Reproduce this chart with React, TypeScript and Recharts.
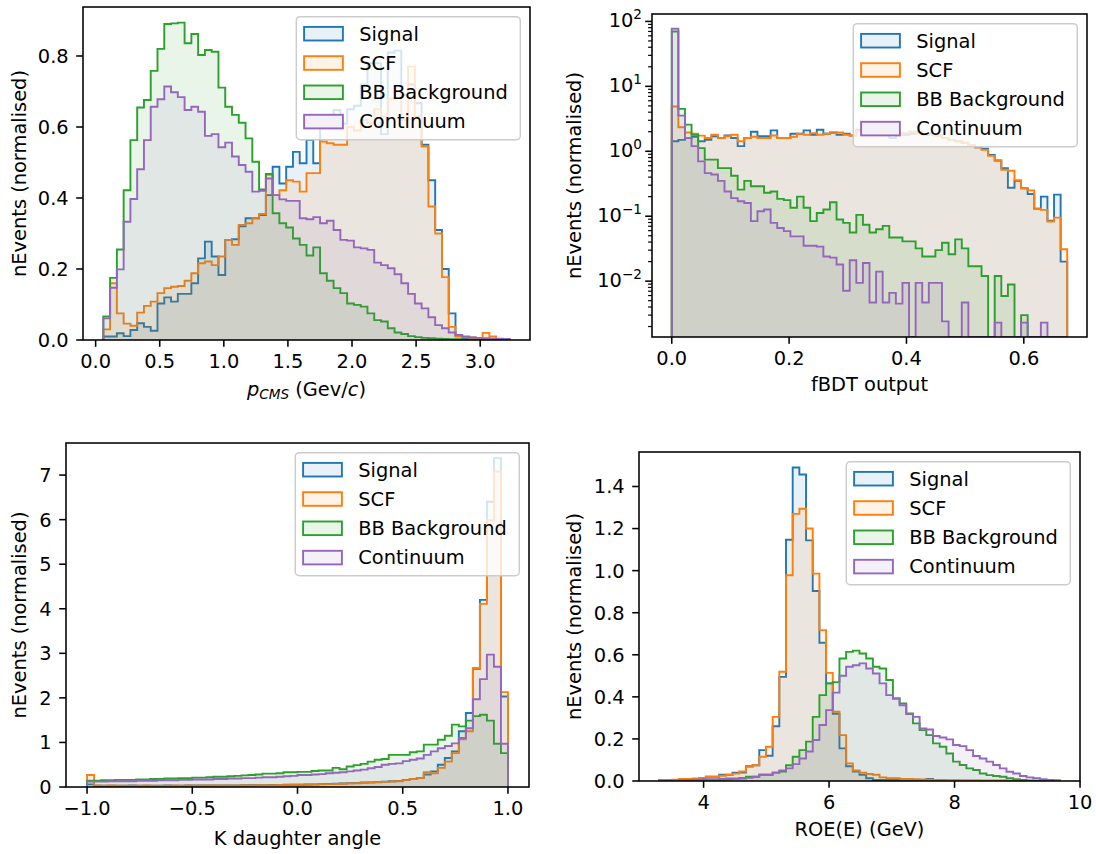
import React from 'react';
import { ComposedChart, Area, XAxis, YAxis } from 'recharts';

const FONT = '"DejaVu Sans", sans-serif';
const FS = 19.4;
const SERIES_KEYS = ['signal', 'scf', 'bb', 'cont'];
const SERIES_NAMES = ['Signal', 'SCF', 'BB Background', 'Continuum'];
const SERIES_COLORS = ['#1f77b4', '#ff7f0e', '#2ca02c', '#9467bd'];

// ---------- Panel 1: p_CMS ----------
const P1_RANGE = [0.06, 3.23];
const P1_SIGNAL = [0.01, 0.01, 0.019, 0.011, 0.028, 0.047, 0.037, 0.026, 0.103, 0.12, 0.108, 0.13, 0.13, 0.16, 0.23, 0.277, 0.235, 0.183, 0.282, 0.284, 0.32, 0.343, 0.343, 0.352, 0.408, 0.488, 0.441, 0.488, 0.53, 0.498, 0.563, 0.498, 0.61, 0.606, 0.648, 0.61, 0.65, 0.66, 0.72, 0.78, 0.78, 0.58, 0.81, 0.815, 0.69, 0.72, 0.667, 0.55, 0.45, 0.31, 0.2, 0.075, 0.012, 0.005, 0.003, 0.002, 0.002, 0.001, 0.001, 0.001];
const P1_SCF = [0.03, 0.16, 0.075, 0.046, 0.04, 0.077, 0.096, 0.108, 0.132, 0.146, 0.15, 0.152, 0.167, 0.188, 0.216, 0.221, 0.211, 0.235, 0.282, 0.268, 0.324, 0.329, 0.343, 0.355, 0.465, 0.408, 0.422, 0.45, 0.446, 0.418, 0.47, 0.47, 0.559, 0.554, 0.55, 0.55, 0.6, 0.59, 0.62, 0.61, 0.65, 0.63, 0.68, 0.7, 0.62, 0.77, 0.63, 0.545, 0.376, 0.3, 0.177, 0.037, 0.01, 0.008, 0.006, 0.005, 0.02, 0.01, 0.003, 0.002];
const P1_BB = [0.066, 0.175, 0.255, 0.422, 0.563, 0.655, 0.676, 0.758, 0.82, 0.89, 0.892, 0.894, 0.836, 0.862, 0.803, 0.817, 0.812, 0.711, 0.657, 0.634, 0.612, 0.568, 0.502, 0.424, 0.468, 0.357, 0.329, 0.317, 0.286, 0.268, 0.238, 0.261, 0.188, 0.167, 0.146, 0.132, 0.103, 0.099, 0.094, 0.075, 0.056, 0.052, 0.033, 0.021, 0.017, 0.011, 0.008, 0.006, 0.005, 0.004, 0.003, 0.002, 0.002, 0.001, 0.001, 0.001, 0, 0, 0, 0];
const P1_CONT = [0.061, 0.147, 0.199, 0.333, 0.397, 0.481, 0.563, 0.657, 0.678, 0.714, 0.698, 0.684, 0.648, 0.657, 0.643, 0.575, 0.58, 0.543, 0.556, 0.517, 0.493, 0.474, 0.418, 0.42, 0.455, 0.408, 0.396, 0.392, 0.392, 0.343, 0.34, 0.346, 0.329, 0.336, 0.31, 0.282, 0.28, 0.261, 0.258, 0.254, 0.218, 0.211, 0.202, 0.185, 0.16, 0.13, 0.103, 0.089, 0.064, 0.042, 0.033, 0.021, 0.014, 0.01, 0.008, 0.006, 0.005, 0.004, 0.004, 0.003];
const P1_XTICKS = [0, 0.5, 1.0, 1.5, 2.0, 2.5, 3.0];
const P1_YTICKS = [0, 0.2, 0.4, 0.6, 0.8];

// ---------- Panel 2: fBDT output (log) ----------
const P2_RANGE = [0, 0.674];
const P2_SIGNAL = [1.43, 1.5, 1.6, 1.67, 1.43, 1.5, 1.7, 1.6, 1.75, 1.6, 1.2, 1.6, 2.0, 1.7, 1.7, 2.1, 1.6, 1.6, 1.86, 1.86, 2.1, 1.8, 2.15, 1.86, 1.95, 1.8, 1.86, 1.75, 2.15, 2.1, 2.15, 2.3, 2.4, 1.6, 1.86, 1.8, 1.86, 2.0, 1.8, 1.86, 1.75, 1.6, 1.5, 1.43, 1.35, 1.2, 1.15, 1.1, 0.88, 0.72, 0.55, 0.275, 0.35, 0.27, 0.22, 0.13, 0.2, 0.085, 0.215, 0.02];
const P2_SCF = [4.9, 2.35, 1.95, 1.86, 1.74, 1.6, 1.8, 1.6, 1.7, 1.8, 1.43, 1.6, 1.67, 1.6, 1.6, 1.75, 1.6, 1.6, 1.67, 1.86, 1.8, 1.9, 1.8, 1.86, 1.9, 1.95, 1.8, 1.75, 2.1, 2.1, 2.0, 2.1, 1.9, 2.0, 1.8, 1.9, 2.0, 1.9, 1.85, 1.8, 1.75, 1.6, 1.5, 1.43, 1.35, 1.25, 1.15, 1.05, 0.85, 0.72, 0.52, 0.5, 0.36, 0.27, 0.25, 0.13, 0.125, 0.083, 0.095, 0.031];
const P2_BB = [70, 4.5, 2.57, 1.8, 1.12, 0.745, 0.745, 0.55, 0.55, 0.42, 0.257, 0.35, 0.29, 0.29, 0.23, 0.24, 0.185, 0.177, 0.135, 0.2, 0.135, 0.084, 0.112, 0.127, 0.164, 0.089, 0.079, 0.056, 0.105, 0.074, 0.056, 0.063, 0.071, 0.047, 0.047, 0.041, 0.041, 0.032, 0.024, 0.024, 0.03, 0.039, 0.026, 0.044, 0.032, 0.017, 0.017, 0.012, 0, 0.012, 0.0059, 0.0089, 0, 0.003, 0, 0, 0, 0, 0, 0];
const P2_CONT = [77, 3.54, 1.6, 1.2, 0.7, 0.46, 0.44, 0.35, 0.24, 0.19, 0.17, 0.16, 0.084, 0.119, 0.127, 0.079, 0.066, 0.059, 0.049, 0.049, 0.035, 0.035, 0.034, 0.024, 0.023, 0.018, 0.0071, 0.021, 0.0094, 0.019, 0.0047, 0.014, 0.0047, 0.0066, 0.0045, 0.0094, 0, 0.0094, 0.0047, 0.0094, 0.0094, 0.0024, 0, 0, 0.0047, 0, 0, 0, 0, 0.0023, 0, 0, 0, 0.0023, 0, 0, 0.0023, 0, 0, 0];
const P2_XTICKS = [0, 0.2, 0.4, 0.6];
const P2_YMAJOR = [0.01, 0.1, 1, 10, 100];
const P2_YMINOR = [0.002, 0.003, 0.004, 0.005, 0.006, 0.007, 0.008, 0.009, 0.02, 0.03, 0.04, 0.05, 0.06, 0.07, 0.08, 0.09, 0.2, 0.3, 0.4, 0.5, 0.6, 0.7, 0.8, 0.9, 2, 3, 4, 5, 6, 7, 8, 9, 20, 30, 40, 50, 60, 70, 80, 90];
const LOG_MIN = 0.00138;
const LOG_MAX = 130;

// ---------- Panel 3: K daughter angle ----------
const P3_RANGE = [-1, 1];
const P3_SIGNAL = [0.06, 0.028, 0.031, 0.029, 0.03, 0.028, 0.032, 0.03, 0.029, 0.031, 0.03, 0.032, 0.03, 0.031, 0.033, 0.032, 0.034, 0.035, 0.034, 0.036, 0.035, 0.037, 0.04, 0.039, 0.041, 0.042, 0.045, 0.046, 0.05, 0.051, 0.052, 0.055, 0.06, 0.065, 0.07, 0.075, 0.08, 0.086, 0.092, 0.1, 0.104, 0.11, 0.12, 0.13, 0.135, 0.16, 0.18, 0.2, 0.28, 0.35, 0.5, 0.65, 0.8, 1.25, 1.66, 2.65, 4.2, 6.4, 7.38, 2.03];
const P3_SCF = [0.27, 0.035, 0.03, 0.032, 0.029, 0.031, 0.03, 0.028, 0.032, 0.03, 0.031, 0.029, 0.033, 0.03, 0.032, 0.031, 0.034, 0.033, 0.035, 0.034, 0.036, 0.035, 0.038, 0.037, 0.04, 0.041, 0.043, 0.044, 0.047, 0.049, 0.05, 0.053, 0.056, 0.06, 0.065, 0.068, 0.074, 0.08, 0.085, 0.093, 0.1, 0.105, 0.115, 0.125, 0.13, 0.155, 0.18, 0.2, 0.33, 0.31, 0.43, 0.57, 0.76, 1.07, 1.25, 2.67, 4.11, 5.99, 7.08, 2.13];
const P3_BB = [0.14, 0.14, 0.15, 0.15, 0.16, 0.16, 0.16, 0.17, 0.17, 0.18, 0.18, 0.19, 0.19, 0.2, 0.2, 0.21, 0.21, 0.22, 0.23, 0.23, 0.24, 0.25, 0.26, 0.27, 0.28, 0.3, 0.3, 0.31, 0.33, 0.33, 0.34, 0.34, 0.36, 0.37, 0.37, 0.43, 0.4, 0.46, 0.49, 0.52, 0.57, 0.61, 0.63, 0.72, 0.72, 0.72, 0.78, 0.8, 0.95, 0.95, 1.06, 1.15, 1.4, 1.36, 1.49, 1.59, 1.62, 1.49, 0.97, 0.76];
const P3_CONT = [0.12, 0.12, 0.12, 0.13, 0.13, 0.13, 0.13, 0.14, 0.14, 0.14, 0.15, 0.15, 0.15, 0.16, 0.16, 0.17, 0.17, 0.17, 0.18, 0.18, 0.19, 0.19, 0.2, 0.2, 0.21, 0.22, 0.22, 0.23, 0.24, 0.25, 0.27, 0.27, 0.28, 0.29, 0.31, 0.32, 0.33, 0.35, 0.37, 0.39, 0.42, 0.45, 0.5, 0.52, 0.53, 0.58, 0.61, 0.64, 0.72, 0.8, 0.87, 0.92, 0.98, 1.1, 1.32, 1.97, 2.42, 2.97, 2.7, 0.97];
const P3_XTICKS = [-1, -0.5, 0, 0.5, 1];
const P3_YTICKS = [0, 1, 2, 3, 4, 5, 6, 7];

// ---------- Panel 4: ROE(E) ----------
const P4_RANGE = [3.29, 9.68];
const P4_SIGNAL = [0.004, 0.004, 0.005, 0.01, 0.01, 0.01, 0.012, 0.02, 0.02, 0.03, 0.03, 0.04, 0.04, 0.07, 0.075, 0.147, 0.12, 0.26, 0.495, 1.147, 1.49, 1.457, 1.144, 0.903, 0.657, 0.464, 0.32, 0.155, 0.07, 0.045, 0.03, 0.013, 0.005, 0.005, 0.005, 0.005, 0.003, 0.003, 0.003, 0.003, 0.01, 0.002, 0.002, 0.002, 0.002, 0.002, 0.001, 0.001, 0.001, 0.001, 0.001, 0.001, 0, 0, 0, 0, 0, 0, 0, 0];
const P4_SCF = [0.003, 0.004, 0.006, 0.01, 0.01, 0.012, 0.015, 0.02, 0.02, 0.025, 0.03, 0.035, 0.045, 0.068, 0.075, 0.115, 0.163, 0.305, 0.519, 0.978, 1.27, 1.294, 1.2, 0.986, 0.717, 0.514, 0.329, 0.218, 0.084, 0.05, 0.04, 0.033, 0.03, 0.017, 0.013, 0.013, 0.01, 0.01, 0.008, 0.007, 0.006, 0.005, 0.005, 0.004, 0.004, 0.003, 0.003, 0.003, 0.002, 0.002, 0.002, 0.001, 0.001, 0.001, 0, 0, 0, 0, 0, 0];
const P4_BB = [0, 0, 0, 0, 0.001, 0.002, 0.003, 0.004, 0.005, 0.006, 0.008, 0.01, 0.012, 0.02, 0.02, 0.03, 0.03, 0.04, 0.045, 0.075, 0.115, 0.147, 0.187, 0.305, 0.408, 0.464, 0.47, 0.582, 0.614, 0.62, 0.606, 0.582, 0.543, 0.535, 0.48, 0.392, 0.369, 0.321, 0.274, 0.242, 0.218, 0.179, 0.163, 0.131, 0.092, 0.076, 0.06, 0.052, 0.036, 0.028, 0.024, 0.02, 0.013, 0.008, 0.005, 0.003, 0.002, 0.001, 0.001, 0];
const P4_CONT = [0.002, 0.003, 0.003, 0.004, 0.005, 0.006, 0.007, 0.008, 0.009, 0.01, 0.012, 0.012, 0.015, 0.015, 0.02, 0.03, 0.03, 0.04, 0.05, 0.06, 0.08, 0.107, 0.14, 0.195, 0.266, 0.337, 0.42, 0.5, 0.543, 0.55, 0.559, 0.535, 0.511, 0.464, 0.408, 0.392, 0.36, 0.318, 0.305, 0.25, 0.245, 0.214, 0.207, 0.198, 0.171, 0.166, 0.147, 0.119, 0.107, 0.092, 0.076, 0.06, 0.044, 0.036, 0.024, 0.017, 0.013, 0.008, 0.005, 0.004];
const P4_XTICKS = [4, 6, 8, 10];
const P4_YTICKS = [0, 0.2, 0.4, 0.6, 0.8, 1.0, 1.2, 1.4];

// build step-histogram rows (bin edges) from the bin arrays
function buildRows(range: number[], vals: number[][], floor: number) {
  const n = vals[0].length;
  const w = (range[1] - range[0]) / n;
  const edge = (i: number) => range[0] + i * w;
  const row = (x: number, idx: number | null) => {
    const r: any = { x };
    SERIES_KEYS.forEach((k, j) => {
      const v = idx === null ? 0 : vals[j][idx];
      r[k] = Math.max(v, floor);
    });
    return r;
  };
  const rows = [row(edge(0), null)];
  for (let i = 0; i < n; i++) rows.push(row(edge(i), i));
  rows.push(row(edge(n), n - 1));
  rows.push(row(edge(n), null));
  return rows;
}

const minus = (s: string) => s.replace('-', '\u2212');

type Panel = {
  box: { x0: number; y0: number; x1: number; y1: number };
  rows: any[];
  xDomain: number[];
  yDomain: number[];
  xTicks: number[];
  yTicks?: number[];
  xFmt: (v: number) => string;
  yFmt?: (v: number) => string;
  log?: boolean;
  xLabelY: number;
  yLabelX: number;
  xLabel: React.ReactNode;
};

const PANELS: Panel[] = [
  {
    box: { x0: 83, y0: 7, x1: 530, y1: 340 },
    rows: buildRows(P1_RANGE, [P1_SIGNAL, P1_SCF, P1_BB, P1_CONT], 0),
    xDomain: [-0.0985, 3.3885],
    yDomain: [0, 0.938],
    xTicks: P1_XTICKS,
    yTicks: P1_YTICKS,
    xFmt: (v) => v.toFixed(1),
    yFmt: (v) => v.toFixed(1),
    xLabelY: 396,
    yLabelX: 25.5,
    xLabel: (
      <>
        <tspan fontStyle="italic">p</tspan>
        <tspan fontStyle="italic" fontSize={13.6} dy={3}>CMS</tspan>
        <tspan dy={-3}> (Gev/</tspan>
        <tspan fontStyle="italic">c</tspan>
        <tspan>)</tspan>
      </>
    ),
  },
  {
    box: { x0: 652, y0: 14, x1: 1087, y1: 337 },
    rows: buildRows(P2_RANGE, [P2_SIGNAL, P2_SCF, P2_BB, P2_CONT], LOG_MIN),
    xDomain: [-0.0337, 0.7077],
    yDomain: [LOG_MIN, LOG_MAX],
    xTicks: P2_XTICKS,
    xFmt: (v) => v.toFixed(1),
    log: true,
    xLabelY: 391,
    yLabelX: 580.5,
    xLabel: 'fBDT output',
  },
  {
    box: { x0: 66, y0: 443, x1: 529, y1: 787 },
    rows: buildRows(P3_RANGE, [P3_SIGNAL, P3_SCF, P3_BB, P3_CONT], 0),
    xDomain: [-1.1, 1.1],
    yDomain: [0, 7.72],
    xTicks: P3_XTICKS,
    yTicks: P3_YTICKS,
    xFmt: (v) => minus(v.toFixed(1)),
    yFmt: (v) => String(v),
    xLabelY: 844.5,
    yLabelX: 25.5,
    xLabel: 'K daughter angle',
  },
  {
    box: { x0: 639, y0: 452, x1: 1080, y1: 781 },
    rows: buildRows(P4_RANGE, [P4_SIGNAL, P4_SCF, P4_BB, P4_CONT], 0),
    xDomain: [2.9705, 9.9995],
    yDomain: [0, 1.564],
    xTicks: P4_XTICKS,
    yTicks: P4_YTICKS,
    xFmt: (v) => String(v),
    yFmt: (v) => v.toFixed(1),
    xLabelY: 836,
    yLabelX: 581,
    xLabel: 'ROE(E) (GeV)',
  },
];

const YW = 90;
const MT = 10;
const MR = 20;
const XH = 70;

const LogTick = (props: any) => {
  const { x, y, payload } = props;
  const v = payload.value as number;
  const lg = Math.log10(v);
  const exp = Math.round(lg);
  const major = Math.abs(lg - exp) < 1e-6;
  const e = exp < 0 ? '\u2212' + String(-exp) : String(exp);
  return (
    <g>
      <line x1={x - (major ? 6.8 : 3.9)} x2={x} y1={y} y2={y} stroke="#000" strokeWidth={major ? 1.55 : 1.2} />
      {major && (
        <text x={x - 10} y={y - 1} dy="0.355em" textAnchor="end" fontSize={FS} fontFamily={FONT} fill="#000">
          10
          <tspan fontSize={13.6} dy={-8.5}>{e}</tspan>
        </text>
      )}
    </g>
  );
};

function PanelChart({ p }: { p: Panel }) {
  const W = p.box.x1 - p.box.x0;
  const H = p.box.y1 - p.box.y0;
  const tickStyle = { fill: '#000', fontSize: FS, fontFamily: FONT };
  const tickLine = { stroke: '#000', strokeWidth: 1.55 };
  return (
    <div style={{ position: 'absolute', left: p.box.x0 - YW, top: p.box.y0 - MT }}>
      <ComposedChart width={YW + W + MR} height={MT + H + XH} data={p.rows} margin={{ top: MT, right: MR, left: 0, bottom: 0 }}>
        <XAxis
          dataKey="x"
          type="number"
          domain={p.xDomain}
          allowDataOverflow
          ticks={p.xTicks}
          interval={0}
          tickFormatter={p.xFmt}
          height={XH}
          tickSize={6.8}
          tickMargin={7.5}
          axisLine={false}
          tickLine={tickLine}
          tick={tickStyle}
        />
        {p.log ? (
          <YAxis
            type="number"
            scale="log"
            domain={p.yDomain}
            allowDataOverflow
            ticks={[...P2_YMAJOR, ...P2_YMINOR]}
            interval={0}
            width={YW}
            tickSize={0}
            tickMargin={0}
            axisLine={false}
            tickLine={false}
            tick={<LogTick />}
          />
        ) : (
          <YAxis
            type="number"
            domain={p.yDomain}
            allowDataOverflow
            ticks={p.yTicks}
            interval={0}
            tickFormatter={p.yFmt}
            width={YW}
            tickSize={6.8}
            tickMargin={7.5}
            axisLine={false}
            tickLine={tickLine}
            tick={tickStyle}
          />
        )}
        {SERIES_KEYS.map((k, i) => (
          <Area
            key={k}
            type="stepAfter"
            dataKey={k}
            stroke={SERIES_COLORS[i]}
            strokeWidth={1.9}
            strokeLinejoin="miter"
            fill={SERIES_COLORS[i]}
            fillOpacity={0.1}
            baseValue={p.log ? LOG_MIN : 0}
            dot={false}
            activeDot={false}
            isAnimationActive={false}
          />
        ))}
      </ComposedChart>
    </div>
  );
}

function LegendBox({ right, top }: { right: number; top: number }) {
  const w = 224;
  const h = 123;
  const x = right - w;
  return (
    <g>
      <rect x={x} y={top} width={w} height={h} rx={4} ry={4} fill="#fff" fillOpacity={0.8} stroke="#cccccc" strokeWidth={1.5} />
      {SERIES_NAMES.map((name, i) => {
        const cy = top + 17 + i * 29.3;
        return (
          <g key={name}>
            <rect x={x + 7.8} y={cy - 6.8} width={38.8} height={13.6} fill="#fff" />
            <rect x={x + 7.8} y={cy - 6.8} width={38.8} height={13.6} fill={SERIES_COLORS[i]} fillOpacity={0.1} stroke={SERIES_COLORS[i]} strokeWidth={1.9} />
            <text x={x + 63} y={cy + 6.8} fontSize={FS} fontFamily={FONT} fill="#000">
              {name}
            </text>
          </g>
        );
      })}
    </g>
  );
}

export default function App() {
  return (
    <div style={{ position: 'absolute', left: 0, top: 0, width: 1096, height: 854, background: '#fff', overflow: 'hidden' }}>
      {PANELS.map((p, i) => (
        <PanelChart key={i} p={p} />
      ))}
      <svg width={1096} height={854} style={{ position: 'absolute', left: 0, top: 0, pointerEvents: 'none' }}>
        {PANELS.map((p, i) => {
          const { x0, y0, x1, y1 } = p.box;
          return (
            <g key={i}>
              <rect x={x0} y={y0} width={x1 - x0} height={y1 - y0} fill="none" stroke="#000" strokeWidth={1.55} />
              <LegendBox right={x1 - 9.7} top={y0 + 9.7} />
              <text x={(x0 + x1) / 2} y={p.xLabelY} textAnchor="middle" fontSize={FS} fontFamily={FONT} fill="#000">
                {p.xLabel}
              </text>
              <text
                transform={`translate(${p.yLabelX},${(y0 + y1) / 2}) rotate(-90)`}
                textAnchor="middle"
                fontSize={FS}
                fontFamily={FONT}
                fill="#000"
              >
                nEvents (normalised)
              </text>
            </g>
          );
        })}
      </svg>
    </div>
  );
}
